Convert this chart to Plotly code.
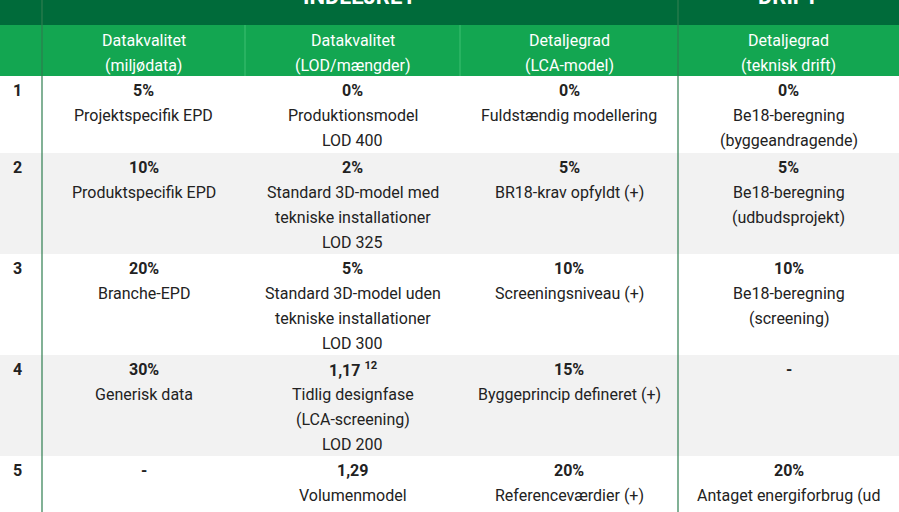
import plotly.graph_objects as go

W, H = 899, 512
group_titles = ["INDLEJRET", "DRIFT"]
col_headers = [["Datakvalitet", "(miljødata)"], ["Datakvalitet", "(LOD/mængder)"],
               ["Detaljegrad", "(LCA-model)"], ["Detaljegrad", "(teknisk drift)"]]
row_ids = ["1", "2", "3", "4", "5"]
values = [["5%", "0%", "0%", "0%"],
          ["10%", "2%", "5%", "5%"],
          ["20%", "5%", "10%", "10%"],
          ["30%", "1,17 <sup>12</sup>", "15%", "-"],
          ["-", "1,29", "20%", "20%"]]
descs = [[["Projektspecifik EPD"], ["Produktionsmodel", "LOD 400"], ["Fuldstændig modellering"], ["Be18-beregning", "(byggeandragende)"]],
         [["Produktspecifik EPD"], ["Standard 3D-model med", "tekniske installationer", "LOD 325"], ["BR18-krav opfyldt (+)"], ["Be18-beregning", "(udbudsprojekt)"]],
         [["Branche-EPD"], ["Standard 3D-model uden", "tekniske installationer", "LOD 300"], ["Screeningsniveau (+)"], ["Be18-beregning", "(screening)"]],
         [["Generisk data"], ["Tidlig designfase", "(LCA-screening)", "LOD 200"], ["Byggeprincip defineret (+)"], []],
         [[], ["Volumenmodel", "LOD 100"], ["Referenceværdier (+)"], ["Antaget energiforbrug (ud", "fra standardværdier)"]]]

col_edges = [0, 42, 245, 460, 678, 899]
row_edges = [76, 153, 254, 355, 456, 560]
FONT = "Liberation Sans Narrow, Roboto, sans-serif"
FS = 16
DARK, BRIGHT = "#006b3a", "#13a651"

shapes, ann = [], []
shapes.append(dict(type="rect", x0=0, x1=W, y0=-10, y1=25, fillcolor=DARK, line_width=0, layer="below"))
shapes.append(dict(type="rect", x0=0, x1=W, y0=25, y1=76, fillcolor=BRIGHT, line_width=0, layer="below"))
for i in range(len(row_ids)):
    if i % 2 == 1:
        shapes.append(dict(type="rect", x0=0, x1=W, y0=row_edges[i], y1=row_edges[i+1],
                           fillcolor="#f2f2f2", line_width=0, layer="below"))
for xe in col_edges[2:4]:
    shapes.append(dict(type="line", x0=xe, x1=xe, y0=25, y1=76, line=dict(color="#3fbf72", width=1)))
for xe in [col_edges[1], col_edges[4]]:
    shapes.append(dict(type="line", x0=xe, x1=xe, y0=-10, y1=560, line=dict(color="#2e7d4f", width=1.2)))

for a in ann:
    pass
for c, hd in enumerate(col_headers):
    cx = (col_edges[c+1]+col_edges[c+2])/2
    for k, t in enumerate(hd):
        ann.append(dict(x=cx, y=40+k*25, text=t, font=dict(size=FS, color="white", family=FONT)))
for r, rid in enumerate(row_ids):
    y0 = row_edges[r] + 14
    ann.append(dict(x=17, y=y0, text="<b>"+rid+"</b>", font=dict(size=FS, color="#222", family=FONT)))
    for c in range(4):
        cx = (col_edges[c+1]+col_edges[c+2])/2
        ann.append(dict(x=cx, y=y0, text="<b>"+values[r][c]+"</b>", font=dict(size=FS, color="#222", family=FONT)))
        for k, t in enumerate(descs[r][c]):
            ann.append(dict(x=cx, y=y0+25*(k+1), text=t, font=dict(size=FS, color="#222", family=FONT)))
for a in ann:
    a.update(xref="x", yref="y", showarrow=False, xanchor="center", yanchor="middle")

top_y = 1 + 4 / H
ann.append(dict(x=(col_edges[1]+col_edges[4])/2, y=top_y, xref="x", yref="paper", showarrow=False,
                yanchor="middle", text="<b>"+group_titles[0]+"</b>", font=dict(size=22, color="white", family=FONT)))
ann.append(dict(x=(col_edges[4]+col_edges[5])/2, y=top_y, xref="x", yref="paper", showarrow=False,
                yanchor="middle", text="<b>"+group_titles[1]+"</b>", font=dict(size=22, color="white", family=FONT)))

fig = go.Figure()
fig.update_layout(width=W, height=H, margin=dict(l=0, r=0, t=0, b=0),
                  plot_bgcolor="white", paper_bgcolor="white",
                  xaxis=dict(range=[0, W], visible=False, fixedrange=True),
                  yaxis=dict(range=[H, 0], visible=False, fixedrange=True),
                  shapes=shapes, annotations=ann, showlegend=False)
fig.write_html("out.html", config={"displayModeBar": False},
               post_script="document.body.style.margin='0';document.body.style.overflow='hidden';")
